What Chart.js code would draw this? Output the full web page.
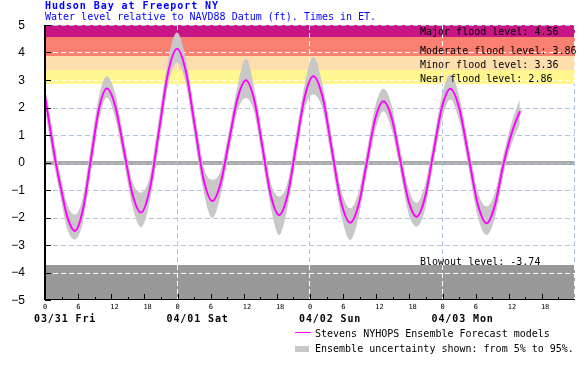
<!DOCTYPE html>
<html>
<head>
<meta charset="utf-8">
<script src="https://cdn.jsdelivr.net/npm/chart.js@4.4.1/dist/chart.umd.min.js"></script>
<style>
  html,body{margin:0;padding:0;background:#fff;}
  #wrap{position:relative;width:587px;height:379px;overflow:hidden;}
  canvas{position:absolute;left:0;top:0;}
  .t{position:absolute;white-space:pre;font-family:"DejaVu Sans Mono",monospace;font-size:10px;line-height:10px;}
  #title{left:45px;top:0.5px;color:#0000ff;font-weight:bold;letter-spacing:0.94px;}
  #sub{left:45px;top:11.5px;color:#0000ff;}
  #lg1{left:315px;top:329px;color:#000;}
  #lg2{left:315px;top:344px;color:#000;}
  #lgline{position:absolute;left:295px;top:332px;width:16px;height:1px;background:#ff00ff;}
  #lgbox{position:absolute;left:295px;top:346px;width:14px;height:6px;background:#c8c8c8;}
</style>
</head>
<body>
<div id="wrap">
  <canvas id="c" width="587" height="379"></canvas>
  <div class="t" id="title">Hudson Bay at Freeport NY</div>
  <div class="t" id="sub">Water level relative to NAVD88 Datum (ft). Times in ET.</div>
  <div id="lgline"></div>
  <div class="t" id="lg1">Stevens NYHOPS Ensemble Forecast models</div>
  <div id="lgbox"></div>
  <div class="t" id="lg2">Ensemble uncertainty shown: from 5% to 95%.</div>
</div>
<script>
// ---- data (hours since 03/31 00:00 ET) ----
const hours = [0,1.0,1.9,3.0,4.0,5.4,6.85,8.3,9.75,11.2,12.75,14.3,15.85,17.4,19.0,20.65,22.3,23.9,25.5,27.1,28.7,30.3,31.8,33.35,34.9,36.4,37.9,39.4,40.9,42.4,43.95,45.5,47.05,48.6,50.3,51.95,53.6,55.3,56.8,58.3,59.8,61.3,62.8,64.3,65.8,67.3,68.8,70.35,71.9,73.4,75.05,76.7,78.35,80.0,81.5,83.0,84.5,86.0];
const level = [2.41,1.15,0.05,-1.05,-1.95,-2.49,-1.73,0.10,1.93,2.69,2.03,0.44,-1.16,-1.82,-0.95,1.16,3.27,4.14,3.33,1.37,-0.59,-1.40,-0.76,0.80,2.35,2.99,2.27,0.54,-1.19,-1.91,-1.17,0.62,2.40,3.14,2.36,0.48,-1.41,-2.19,-1.54,0.02,1.58,2.23,1.62,0.13,-1.36,-1.97,-1.29,0.36,2.00,2.68,1.96,0.24,-1.49,-2.21,-1.55,-0.10,1.05,1.86];
const upper = [2.72,1.50,0.40,-0.65,-1.50,-1.90,-1.28,0.45,2.38,3.14,2.48,0.79,-0.71,-1.10,-0.50,1.51,3.72,4.73,3.78,1.72,-0.14,-0.63,-0.31,1.15,2.80,3.77,2.72,0.89,-0.74,-1.24,-0.72,0.97,2.85,3.85,2.81,0.83,-0.96,-1.66,-1.09,0.37,2.03,2.68,2.07,0.48,-0.91,-1.47,-0.84,0.71,2.45,3.20,2.41,0.59,-1.04,-1.60,-1.10,0.25,1.45,2.29];
const lower = [2.10,0.80,-0.30,-1.45,-2.40,-2.80,-2.18,-0.25,1.48,2.36,1.58,0.09,-1.61,-2.35,-1.40,0.81,2.82,3.64,2.88,1.02,-1.04,-2.02,-1.21,0.45,1.90,2.35,1.82,0.19,-1.64,-2.64,-1.62,0.27,1.95,2.47,1.91,0.13,-1.86,-2.82,-1.99,-0.33,1.13,1.86,1.17,-0.22,-1.81,-2.34,-1.74,0.01,1.55,2.29,1.51,-0.11,-1.94,-2.64,-2.00,-0.45,0.65,1.40];

const yTicks = [-5,-4,-3,-2,-1,0,1,2,3,4,5];
const xTickHours = [0,6,12,18,24,30,36,42,48,54,60,66,72,78,84,90];
const dayMidnights = [0,24,48,72];
const dayLabels = ['03/31 Fri','04/01 Sat','04/02 Sun','04/03 Mon'];
const floodNames = ['Major flood level: ','Moderate flood level: ','Minor flood level: ','Near flood level: '];
const floodLevels = [4.56,3.86,3.36,2.86];
const blowoutName = 'Blowout level: ';
const blowoutLevel = -3.74;

const pts = arr => hours.map((h,i)=>({x:h,y:arr[i]}));

const GRID = '#b0c4de';

const bgPlugin = {
  id:'bg',
  beforeDatasetsDraw(chart){
    const {ctx, chartArea:a, scales:{x,y}} = chart;
    const W = a.right - a.left;
    ctx.save();
    const bands = [
      [5, floodLevels[0], '#c71585'],
      [floodLevels[0], floodLevels[1], '#fa8072'],
      [floodLevels[1], floodLevels[2], '#ffdead'],
      [floodLevels[2], floodLevels[3], '#fff68f'],
      [blowoutLevel, -5, '#999999']
    ];
    bands.forEach(([t,b,c])=>{
      const y1 = Math.round(y.getPixelForValue(t)), y2 = Math.round(y.getPixelForValue(b));
      ctx.fillStyle = c; ctx.fillRect(a.left, y1, W, y2-y1);
    });
    const y0 = y.getPixelForValue(0);
    ctx.fillStyle = '#a9a9a9';
    ctx.fillRect(a.left, Math.round(y0)-2, W, 4);
    const drawGrid = (color)=>{
      ctx.strokeStyle = color; ctx.lineWidth = 1; ctx.setLineDash([5,3]);
      ctx.beginPath();
      yTicks.forEach(v=>{
        if (v === -5) return;
        const py = Math.round(y.getPixelForValue(v)) + 0.5;
        ctx.moveTo(a.left, py); ctx.lineTo(a.right, py);
      });
      [24,48,72,96].forEach(h=>{
        let px = Math.round(x.getPixelForValue(h)) - 0.5;
        ctx.moveTo(px, a.top); ctx.lineTo(px, a.bottom);
      });
      ctx.stroke();
    };
    drawGrid(GRID);
    ctx.save();
    ctx.beginPath();
    const fTop = Math.round(y.getPixelForValue(5)) + 1;
    const fBot = Math.round(y.getPixelForValue(floodLevels[3]));
    ctx.rect(a.left, fTop, W, fBot - fTop);
    const bTop = Math.round(y.getPixelForValue(blowoutLevel));
    ctx.rect(a.left, bTop, W, a.bottom - bTop);
    ctx.clip();
    drawGrid('#ffffff');
    ctx.restore();
    ctx.restore();
  },
  afterDatasetsDraw(chart){
    const {ctx, chartArea:a, scales:{x,y}} = chart;
    ctx.save();
    ctx.setLineDash([]);
    ctx.strokeStyle = '#000'; 
    ctx.lineWidth = 2;
    ctx.beginPath(); ctx.moveTo(a.left, a.top); ctx.lineTo(a.left, a.bottom); ctx.stroke();
    ctx.lineWidth = 1;
    ctx.beginPath(); ctx.moveTo(a.left, a.bottom - 0.5); ctx.lineTo(a.right, a.bottom - 0.5); ctx.stroke();
    ctx.beginPath();
    yTicks.forEach(v=>{
      const py = Math.round(y.getPixelForValue(v)) + 0.5;
      ctx.moveTo(a.left, py); ctx.lineTo(a.left + 6, py);
    });
    for (let h = 3; h < 96; h += 3) {
      const px = Math.round(x.getPixelForValue(h)) + 0.5;
      const len = (h % 6 === 0) ? 6 : 3;
      ctx.moveTo(px, a.bottom); ctx.lineTo(px, a.bottom - len);
    }
    ctx.stroke();
    ctx.fillStyle = '#000';
    ctx.font = '12px "Liberation Sans", Arial, sans-serif';
    ctx.textAlign = 'right'; ctx.textBaseline = 'middle';
    yTicks.forEach(v=>{
      ctx.fillText(String(v).replace('-', '\u2212'), a.left - 20, y.getPixelForValue(v) + 0.5);
    });
    ctx.font = '7px "DejaVu Sans Mono", monospace';
    ctx.textAlign = 'left'; ctx.textBaseline = 'alphabetic';
    xTickHours.forEach(h=>{
      const s = String(h % 24);
      const px = x.getPixelForValue(h);
      ctx.fillText(s, px - (s.length === 1 ? 2 : 1), a.bottom + 8.5);
    });
    ctx.font = 'bold 10px "DejaVu Sans Mono", monospace';
    dayMidnights.forEach((h,i)=>{
      let px = x.getPixelForValue(h) - 11;
      const s = dayLabels[i];
      for (let k = 0; k < s.length; k++) ctx.fillText(s[k], px + k*6.92, a.bottom + 22);
    });
    ctx.font = '10px "DejaVu Sans Mono", monospace';
    const lx = a.right - 155;
    floodLevels.forEach((lv,i)=>{
      ctx.fillText(floodNames[i] + lv.toFixed(2), lx, y.getPixelForValue(lv) - 2);
    });
    ctx.fillText(blowoutName + blowoutLevel.toFixed(2), lx, y.getPixelForValue(blowoutLevel));
    ctx.restore();
  }
};

const common = {pointRadius:0, pointHoverRadius:0, cubicInterpolationMode:'monotone'};

new Chart(document.getElementById('c'), {
  type:'line',
  data:{
    datasets:[
      Object.assign({data:pts(lower), borderColor:'rgba(0,0,0,0)', borderWidth:0, fill:false, order:4}, common),
      Object.assign({data:pts(upper), borderColor:'rgba(0,0,0,0)', borderWidth:0, fill:'-1', backgroundColor:'#c8c8c8', order:3}, common),
      Object.assign({data:pts(level), borderColor:'#c8c8c8', borderWidth:4, fill:false, borderJoinStyle:'round', borderCapStyle:'round', order:2}, common),
      Object.assign({data:pts(level), borderColor:'#ff00ff', borderWidth:2, fill:false, order:1}, common)
    ]
  },
  options:{
    responsive:false,
    animation:false,
    devicePixelRatio:1,
    layout:{padding:{top:25, right:12, left:0, bottom:0}},
    plugins:{legend:{display:false}, tooltip:{enabled:false}},
    events:[],
    scales:{
      x:{type:'linear', min:0, max:96, grid:{display:false}, border:{display:false}, ticks:{display:false}, afterFit(s){s.height = 79;}},
      y:{type:'linear', min:-5, max:5, grid:{display:false}, border:{display:false}, ticks:{display:false}, afterFit(s){s.width = 45;}}
    }
  },
  plugins:[bgPlugin]
});
</script>
</body>
</html>
